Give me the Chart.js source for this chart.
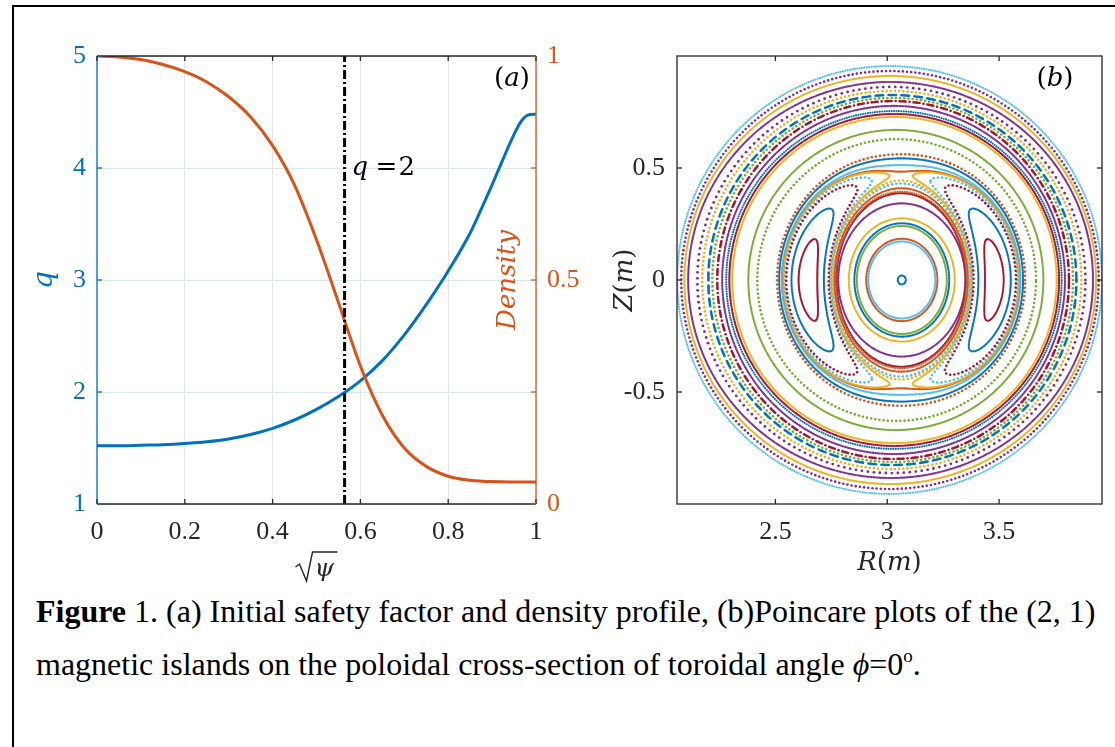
<!DOCTYPE html>
<html>
<head>
<meta charset="utf-8">
<script src="https://cdn.jsdelivr.net/npm/chart.js@4"></script>
<style>
  html, body { margin: 0; padding: 0; background: #fff; width: 1115px; height: 747px; overflow: hidden; }
  #frame { position: absolute; left: 12px; top: 5px; width: 1200px; height: 800px; border-left: 2px solid #000; border-top: 2px solid #000; }
  #chartA { position: absolute; left: 0; top: 0; }
  #chartB { position: absolute; left: 600px; top: 0; }
  .caption { position: absolute; left: 36px; font-family: "Liberation Serif", "Times New Roman", serif; font-size: 32px; line-height: 30px; color: #000; white-space: nowrap; }
  .caption sup { font-size: 19px; line-height: 0; vertical-align: 13px; }
</style>
</head>
<body>
<div id="frame"></div>
<canvas id="chartA" width="610" height="590"></canvas>
<canvas id="chartB" width="515" height="590"></canvas>
<div class="caption" style="top:596px"><b>Figure</b> 1. (a) Initial safety factor and density profile, (b)Poincare plots of the (2, 1)</div>
<div class="caption" style="top:649px">magnetic islands on the poloidal cross-section of toroidal angle <i>ϕ</i>=0<sup>o</sup>.</div>

<script>
// ---------- panel (a): profiles ----------
const psi      = [0, 0.05, 0.1, 0.15, 0.2, 0.25, 0.3, 0.35, 0.4, 0.45, 0.5, 0.55, 0.6, 0.65, 0.7, 0.75, 0.8, 0.85, 0.875, 0.9, 0.925, 0.95, 0.965, 0.98, 1];
const qProfile = [1.52, 1.52, 1.525, 1.53, 1.54, 1.555, 1.58, 1.62, 1.675, 1.75, 1.845, 1.96, 2.10, 2.28, 2.51, 2.78, 3.08, 3.42, 3.63, 3.85, 4.08, 4.30, 4.41, 4.47, 4.48];
const density  = [1.0, 0.998, 0.992, 0.981, 0.965, 0.942, 0.909, 0.864, 0.800, 0.712, 0.590, 0.450, 0.308, 0.198, 0.125, 0.084, 0.062, 0.053, 0.051, 0.050, 0.0495, 0.049, 0.049, 0.049, 0.049];
const qTicks = [1, 2, 3, 4, 5];
const densityTicks = [0, 0.5, 1];
const psiTicks = [0, 0.2, 0.4, 0.6, 0.8, 1];
const qRational = 0.564; // sqrt(psi) where q = 2

// ---------- panel (b): Poincare surfaces ----------
const rTicks = [2.5, 3, 3.5];
const zTicks = [-0.5, 0, 0.5];

// core surfaces (centred on the magnetic axis): semi-axes in R and Z
const coreCentre = 3.065;
const coreA = [0.018, 0.150, 0.159, 0.201, 0.212, 0.237, 0.284];
const coreB = [0.020, 0.172, 0.184, 0.241, 0.253, 0.275, 0.342];

// (2,1) island chain: O/X ring and half widths (normalised)
const islandCentre = 3.062;
const islandRadiusR = 0.415;
const islandRadiusZ = 0.468;
const halfWidthIn = 0.25;
const halfWidthOut = 0.27;
// contour level (-1 at O-point, 1 on separatrix) and side: 0 trapped, -1 inside, +1 outside
const islandLevel = [-0.7, -0.1, 0.55, 0.8, 0.97, 1.08, 1.2, 1.5, 1.8, 1.95, 1.03, 1.25, 1.7, 2.1];
const islandSide  = [0, 0, 0, 0, 0, -1, -1, -1, -1, -1, 1, 1, 1, 1];

// outer surfaces: inboard midplane R and top Z, from the edge inwards
const edgeCentre = 3.0105;
const edgeRin  = [2.061, 2.079, 2.093, 2.110, 2.151, 2.173, 2.200, 2.218, 2.240, 2.262, 2.280, 2.294, 2.307, 2.379, 2.419];
const edgeZtop = [0.955, 0.933, 0.911, 0.884, 0.862, 0.844, 0.826, 0.813, 0.799, 0.777, 0.754, 0.741, 0.728, 0.670, 0.629];

// ---------- styles ----------
const BLUE = "#0072BD", ORANGE = "#D95319", YELLOW = "#EDB120", PURPLE = "#7E2F8E",
      GREEN = "#77AC30", LBLUE = "#4DBEEE", DRED = "#A2142F", AXIS = "#262626";

const coreColor = [BLUE, LBLUE, ORANGE, GREEN, BLUE, YELLOW, PURPLE];
const coreStyle = ["solid", "solid", "solid", "solid", "solid", "solid", "solid"];
const islandColor = [DRED, BLUE, DRED, LBLUE, YELLOW, YELLOW, LBLUE, ORANGE, ORANGE, DRED, ORANGE, LBLUE, BLUE, ORANGE];
const islandStyle = ["solid", "solid", "dot", "dot", "solid", "dot", "dot", "solid", "fine", "solid", "solid", "solid", "solid", "dot"];
const edgeColor = [LBLUE, PURPLE, YELLOW, PURPLE, PURPLE, YELLOW, BLUE, GREEN, DRED, PURPLE, BLUE, DRED, YELLOW, GREEN, GREEN];
const edgeStyle = ["fine", "dot", "solid", "solid", "sparse", "dot", "dash", "dot", "dashdot", "solid", "fine", "solid", "solid", "solid", "dot"];

const patterns = {
  solid:   { period: 1.5, offsets: [0], r: 1.1 },
  fine:    { period: 2.4, offsets: [0], r: 1.1 },
  dot:     { period: 4.2, offsets: [0], r: 1.3 },
  sparse:  { period: 6.0, offsets: [0], r: 1.4 },
  dash:    { period: 13, offsets: [0, 1.5, 3, 4.5, 6, 7.5], r: 1.3 },
  dashdot: { period: 14, offsets: [0, 1.5, 3, 4.5, 6, 10], r: 1.3 },
};

const PX = 223.7; // px per metre on panel (b), only used to space the dots

// place dots along a closed curve fn(t), t in [0,1), evenly in arc length
const sampleCurve = (fn, pat) => {
  const N = 1500;
  const s = [fn(0)];
  const len = [0];
  for (let i = 1; i <= N; i++) {
    const p = fn(i / N);
    const q = s[i - 1];
    s.push(p);
    len.push(len[i - 1] + Math.hypot(p[0] - q[0], p[1] - q[1]) * PX);
  }
  const total = len[N];
  const out = [];
  let j = 0;
  for (let s0 = 0; s0 < total - 0.5; s0 += pat.period) {
    for (const off of pat.offsets) {
      const d = s0 + off;
      if (d >= total) break;
      while (j < N - 1 && len[j + 1] < d) j++;
      const f = (d - len[j]) / ((len[j + 1] - len[j]) || 1);
      out.push({ x: s[j][0] + f * (s[j + 1][0] - s[j][0]), y: s[j][1] + f * (s[j + 1][1] - s[j][1]) });
    }
  }
  return out;
};

const ellipse = (rc, a, b) => (t) => [rc + a * Math.cos(2 * Math.PI * t), b * Math.sin(2 * Math.PI * t)];

const islandPoint = (th, x) => {
  const rho = 1 + x;
  return [islandCentre + rho * islandRadiusR * Math.cos(th), rho * islandRadiusZ * Math.sin(th)];
};

const passing = (lev, side) => (t) => {
  const th = 2 * Math.PI * t;
  const w = side > 0 ? halfWidthOut : halfWidthIn;
  return islandPoint(th, side * w * Math.sqrt(Math.max(0, (lev + Math.cos(2 * th)) / 2)));
};

const trapped = (lev, th0) => (t) => {
  const phi = 2 * Math.PI * t;
  const thMax = 0.5 * Math.acos(-lev);
  const th = th0 + thMax * Math.cos(phi);
  const sgn = Math.sin(phi) >= 0 ? 1 : -1;
  const w = sgn > 0 ? halfWidthOut : halfWidthIn;
  return islandPoint(th, sgn * w * Math.sqrt(Math.max(0, (lev + Math.cos(2 * th)) / 2)));
};

const dotSet = (data, color, pat) => ({
  data,
  backgroundColor: color,
  pointBackgroundColor: color,
  pointBorderWidth: 0,
  pointRadius: pat.r,
  pointHoverRadius: pat.r,
});

const buildSurfaces = () => {
  const sets = [];
  // outer surfaces: centre slides from the island ring centre to the edge centre
  const k = (islandCentre - edgeCentre) / (0.95 - islandRadiusR);
  edgeRin.forEach((rin, i) => {
    const a = (islandCentre + islandRadiusR * k - rin) / (1 + k);
    const rc = islandCentre - k * (a - islandRadiusR);
    const pat = patterns[edgeStyle[i]];
    sets.push(dotSet(sampleCurve(ellipse(rc, a, edgeZtop[i]), pat), edgeColor[i], pat));
  });
  islandLevel.forEach((lev, i) => {
    const pat = patterns[islandStyle[i]];
    let data;
    if (islandSide[i] === 0) {
      data = sampleCurve(trapped(lev, 0), pat).concat(sampleCurve(trapped(lev, Math.PI), pat));
    } else {
      data = sampleCurve(passing(lev, islandSide[i]), pat);
    }
    sets.push(dotSet(data, islandColor[i], pat));
  });
  coreA.forEach((a, i) => {
    const pat = patterns[coreStyle[i]];
    sets.push(dotSet(sampleCurve(ellipse(coreCentre, a, coreB[i]), pat), coreColor[i], pat));
  });
  return sets;
};

// ---------- shared drawing helpers ----------
const TICK_FONT = { family: "Liberation Serif", size: 26 };
const tickText = (v) => String(+Number(v).toFixed(2));
const MATH_I = 'italic 26px "DejaVu Serif"';
const MATH_R = '26px "DejaVu Serif"';

const drawRich = (ctx, parts, x, y) => {
  const widths = parts.map(([t, f]) => { ctx.font = f; return ctx.measureText(t).width; });
  let cx = x - widths.reduce((s, w) => s + w, 0) / 2;
  ctx.textAlign = "left";
  parts.forEach(([t, f], i) => { ctx.font = f; ctx.fillText(t, cx, y); cx += widths[i]; });
};

const line = (ctx, x1, y1, x2, y2, color) => {
  ctx.strokeStyle = color;
  ctx.beginPath();
  ctx.moveTo(x1, y1);
  ctx.lineTo(x2, y2);
  ctx.stroke();
};

const TL = 5; // inward tick length

// ---------- chart (a) ----------
const profilesChart = () => {
  const ctxA = document.getElementById("chartA").getContext("2d");

  new Chart(ctxA, {
    type: "line",
    data: {
      datasets: [
        {
          data: [{ x: qRational, y: qTicks[0] }, { x: qRational, y: qTicks[qTicks.length - 1] }],
          yAxisID: "y",
          borderColor: "#000",
          borderWidth: 3,
          borderDash: [9, 3, 2, 3],
          pointRadius: 0,
        },
        {
          data: psi.map((x, i) => ({ x, y: density[i] })),
          yAxisID: "y1",
          borderColor: ORANGE,
          borderWidth: 3,
          pointRadius: 0,
          cubicInterpolationMode: "monotone",
        },
        {
          data: psi.map((x, i) => ({ x, y: qProfile[i] })),
          yAxisID: "y",
          borderColor: BLUE,
          borderWidth: 3,
          pointRadius: 0,
          cubicInterpolationMode: "monotone",
        },
      ],
    },
    options: {
      responsive: false,
      animation: false,
      devicePixelRatio: 1,
      events: [],
      layout: { padding: { top: 56, left: 0, right: 0, bottom: 0 } },
      plugins: { legend: { display: false }, tooltip: { enabled: false } },
      scales: {
        x: {
          type: "linear",
          min: 0,
          max: 1,
          afterBuildTicks: (s) => { s.ticks = psiTicks.map((v) => ({ value: v })); },
          ticks: { color: AXIS, font: TICK_FONT, padding: 13, maxRotation: 0, autoSkip: false, callback: tickText },
          grid: { color: "#e4e4e4", drawTicks: false },
          border: { display: false },
          afterFit: (s) => { s.height = 86; },
        },
        y: {
          position: "left",
          min: 1,
          max: 5,
          afterBuildTicks: (s) => { s.ticks = qTicks.map((v) => ({ value: v })); },
          ticks: { color: BLUE, font: TICK_FONT, padding: 11, callback: tickText },
          grid: { color: "#d8e8f4", drawTicks: false },
          border: { display: false },
          afterFit: (s) => { s.width = 97; },
        },
        y1: {
          position: "right",
          min: 0,
          max: 1,
          afterBuildTicks: (s) => { s.ticks = densityTicks.map((v) => ({ value: v })); },
          ticks: { color: ORANGE, font: TICK_FONT, padding: 11, callback: tickText },
          grid: { display: false, drawTicks: false },
          border: { display: false },
          afterFit: (s) => { s.width = 74; },
        },
      },
    },
    plugins: [
      {
        id: "frameA",
        afterDraw(chart) {
          const { ctx, chartArea: a, scales: { x, y, y1 } } = chart;
          ctx.save();
          ctx.lineWidth = 1.3;
          line(ctx, a.left, a.top, a.right, a.top, AXIS);
          line(ctx, a.left, a.bottom, a.right, a.bottom, AXIS);
          line(ctx, a.left, a.top, a.left, a.bottom, BLUE);
          line(ctx, a.right, a.top, a.right, a.bottom, ORANGE);
          psiTicks.forEach((v) => {
            const px = x.getPixelForValue(v);
            line(ctx, px, a.bottom, px, a.bottom - TL, AXIS);
            line(ctx, px, a.top, px, a.top + TL, AXIS);
          });
          qTicks.forEach((v) => {
            const py = y.getPixelForValue(v);
            line(ctx, a.left, py, a.left + TL, py, BLUE);
          });
          [0, 0.25, 0.5, 0.75, 1].forEach((v) => {
            const py = y1.getPixelForValue(v);
            line(ctx, a.right, py, a.right - TL, py, ORANGE);
          });

          ctx.textBaseline = "middle";
          ctx.fillStyle = "#000";
          drawRich(ctx, [["(", MATH_R], ["a", MATH_I], [")", MATH_R]], a.right - 24, a.top + 23);

          // q = 2 marker text
          const qy = y.getPixelForValue(4);
          const qx = x.getPixelForValue(qRational);
          ctx.textAlign = "left";
          ctx.font = MATH_I;
          ctx.fillText("q", qx + 7, qy);
          ctx.font = MATH_R;
          ctx.fillText("=", qx + 31, qy);
          ctx.fillText("2", qx + 54, qy);

          // axis titles
          ctx.save();
          ctx.translate(45, (a.top + a.bottom) / 2);
          ctx.rotate(-Math.PI / 2);
          ctx.fillStyle = BLUE;
          drawRich(ctx, [["q", 'italic 28px "DejaVu Serif"']], 0, 0);
          ctx.restore();

          ctx.save();
          ctx.translate(a.right - 28, (a.top + a.bottom) / 2);
          ctx.rotate(-Math.PI / 2);
          ctx.fillStyle = ORANGE;
          drawRich(ctx, [["Density", MATH_I]], 0, 0);
          ctx.restore();

          // sqrt(psi)
          const cx = (a.left + a.right) / 2;
          const by = a.bottom + 72;
          ctx.fillStyle = AXIS;
          ctx.font = 'italic 25px "DejaVu Serif"';
          ctx.textAlign = "left";
          ctx.textBaseline = "alphabetic";
          ctx.fillText("ψ", cx - 2, by);
          ctx.lineWidth = 1.4;
          ctx.strokeStyle = AXIS;
          ctx.beginPath();
          ctx.moveTo(cx - 21, by - 9);
          ctx.lineTo(cx - 17, by - 12);
          ctx.lineTo(cx - 10, by + 5);
          ctx.lineTo(cx - 4, by - 24);
          ctx.lineTo(cx + 21, by - 24);
          ctx.stroke();
          ctx.restore();
        },
      },
    ],
  });
};

// ---------- chart (b) ----------
const poincareChart = () => {
  const ctxB = document.getElementById("chartB").getContext("2d");

  new Chart(ctxB, {
    type: "scatter",
    data: { datasets: buildSurfaces() },
    options: {
      responsive: false,
      animation: false,
      devicePixelRatio: 1,
      events: [],
      layout: { padding: { top: 56, left: 0, right: 13, bottom: 0 } },
      plugins: { legend: { display: false }, tooltip: { enabled: false } },
      scales: {
        x: {
          type: "linear",
          min: 2.06,
          max: 3.96,
          afterBuildTicks: (s) => { s.ticks = rTicks.map((v) => ({ value: v })); },
          ticks: { color: AXIS, font: TICK_FONT, padding: 13, maxRotation: 0, autoSkip: false, callback: tickText },
          grid: { display: false, drawTicks: false },
          border: { display: false },
          afterFit: (s) => { s.height = 86; },
        },
        y: {
          min: -1,
          max: 1,
          afterBuildTicks: (s) => { s.ticks = zTicks.map((v) => ({ value: v })); },
          ticks: { color: AXIS, font: TICK_FONT, padding: 12, callback: tickText },
          grid: { display: false, drawTicks: false },
          border: { display: false },
          afterFit: (s) => { s.width = 77; },
        },
      },
    },
    plugins: [
      {
        id: "frameB",
        afterDraw(chart) {
          const { ctx, chartArea: a, scales: { x, y } } = chart;
          ctx.save();
          ctx.lineWidth = 1.3;
          ctx.strokeStyle = AXIS;
          ctx.strokeRect(a.left, a.top, a.right - a.left, a.bottom - a.top);
          rTicks.forEach((v) => {
            const px = x.getPixelForValue(v);
            line(ctx, px, a.bottom, px, a.bottom - TL, AXIS);
            line(ctx, px, a.top, px, a.top + TL, AXIS);
          });
          zTicks.forEach((v) => {
            const py = y.getPixelForValue(v);
            line(ctx, a.left, py, a.left + TL, py, AXIS);
            line(ctx, a.right, py, a.right - TL, py, AXIS);
          });

          ctx.fillStyle = "#000";
          ctx.textBaseline = "middle";
          drawRich(ctx, [["(", MATH_R], ["b", MATH_I], [")", MATH_R]], a.right - 47, a.top + 23);

          ctx.fillStyle = AXIS;
          drawRich(ctx, [["R", MATH_I], ["(", MATH_R], ["m", MATH_I], [")", MATH_R]], (a.left + a.right) / 2, a.bottom + 59);

          ctx.save();
          ctx.translate(a.left - 52, (a.top + a.bottom) / 2);
          ctx.rotate(-Math.PI / 2);
          drawRich(ctx, [["Z", MATH_I], ["(", MATH_R], ["m", MATH_I], [")", MATH_R]], 0, 0);
          ctx.restore();
          ctx.restore();
        },
      },
    ],
  });
};

window.addEventListener("DOMContentLoaded", () => {
  profilesChart();
  poincareChart();
});
</script>
</body>
</html>
